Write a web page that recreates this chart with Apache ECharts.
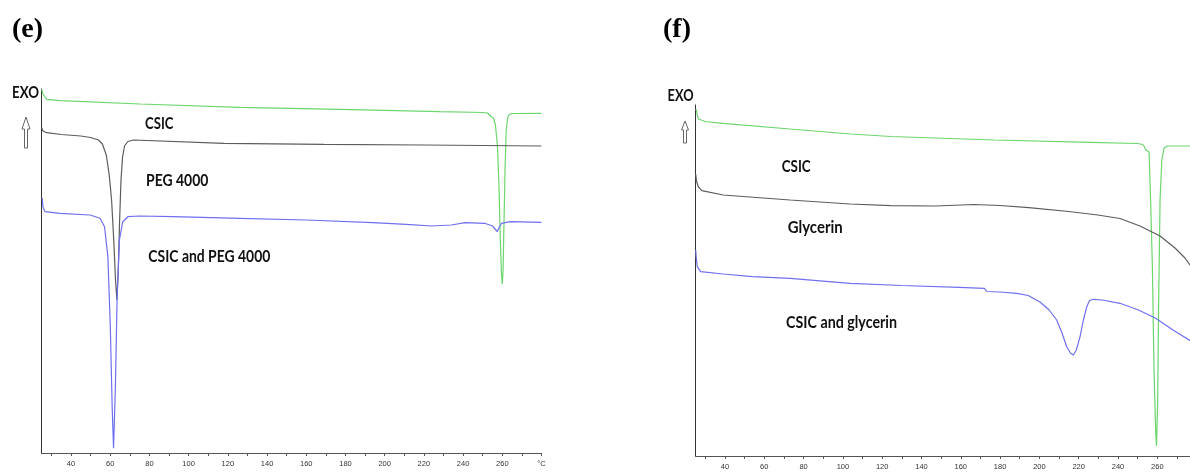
<!DOCTYPE html>
<html>
<head>
<meta charset="utf-8">
<script src="https://cdn.jsdelivr.net/npm/echarts/dist/echarts.min.js"></script>
<style>
  html, body { margin: 0; padding: 0; background: #fff; }
  #chart { width: 1190px; height: 472px; }
</style>
</head>
<body>
<div id="chart"></div>
<script>
// ---- Data (temperature in °C, heat flow in arbitrary units) ----
// Panel (e)
const eCsicT = [25.05,25.7,27.6,34.4,75.2,126.2,177.2,228.2,250,252.5,253.5,254.2,254.8,255.5,256.5,257.5,258.3,259.0,259.6,260.0,260.4,260.9,261.4,262.0,262.7,263.5,265,280];
const eCsicV = [363.7,359,353.7,352.3,349,345.7,343.7,341.3,340.5,340,338,336.5,337.5,335,328,308,268,213,178,169,183,233,283,323,335,338.5,339.5,339.7];
const ePegT = [25.05,25.7,27.6,35,45,50,54,56,58,59.5,60.7,61.8,62.7,63.4,64.1,64.8,65.5,66.3,67.3,69,72,118,169,220,280];
const ePegV = [325.3,322,320.3,318.5,317,315.5,313,309,298,278,253,213,173,153,183,233,273,296,307,311.5,313,309.7,308.7,308,307];
const eMixT = [25.3,25.7,26.7,34.4,49.7,54.8,57.1,58.8,60.0,61.0,61.7,62.6,63.5,64.7,66.4,69,75,92,126,160,194,211,224,234,241,251,255,257.4,258.2,259.6,264,280];
const eMixV = [255,246,241.3,239.7,238,234.7,226.3,196.3,130,46.3,4.7,63,153,213,231.3,236.3,237,236.3,234.7,233,230.3,228.7,227,228,230.3,229.7,227,221.3,225,229.7,231.3,230.7];
// Panel (f)
const fCsicT = [25.3,25.8,26.5,30,39,73,104,124.5,177,226,250,252.6,253.5,254.2,254.8,255.8,256.6,257.5,258.3,259.2,259.6,260.2,260.7,261.4,262.3,263.4,265.1,280];
const fCsicV = [347,342,337,334.5,332.7,327,322,319.5,316,313.7,312.5,311.5,309,306,307,304,256,189.3,89.3,23,10,56,156,256,296,307.7,310,310];
const fGlyT = [25.1,25.5,26.4,28.2,39.1,73.1,103.6,124.5,147.3,166.6,180,194.6,215,229.7,241,251.2,261.4,269,274.1,277];
const fGlyV = [282,275,269.3,265.3,261,256,252,250.3,250,251.5,250.5,248.3,244.5,241,237.5,230,220,208,198,190];
const fMixT = [25.1,25.4,25.9,27.6,39.1,54,73.1,103.6,130,159.2,172,173.2,180,188.5,194.3,200.3,205,208.8,211.5,213.9,215.8,217.3,218.8,220.7,222.4,224.1,225.5,227.4,232,241,250.4,259.2,268,277];
const fMixV = [206,198,189.3,184.3,182,179.3,177.7,172.7,170.5,168.7,167.7,164.5,164,162.7,160.5,154,146,136,123,109.3,103,101,106,119.3,136,149.3,155.5,156.7,156,152.7,146,137.7,126,115];
// Axis ticks and labels
const tickTemps = [30,40,50,60,70,80,90,100,110,120,130,140,150,160,170,180,190,200,210,220,230,240,250,260,270,280];
const labelTemps = [40,60,80,100,120,140,160,180,200,220,240,260,280];
const unitLabel = '°C';
// Texts
const panelLabels = ['(e)', '(f)'];
const curveNamesE = ['CSIC', 'PEG 4000', 'CSIC and PEG 4000'];
const curveNamesF = ['CSIC', 'Glycerin', 'CSIC and glycerin'];

function zip(t, v) { return t.map((x, i) => [x, v[i]]); }

const GREEN = '#6cd66c', GREY = '#5c5c5c', BLUE = '#6f6ff2';

const measureCtx = document.createElement('canvas').getContext('2d');
function squeezed(text, x, yMid, targetW, size) {
  const fam = 'Lato';
  measureCtx.font = 'bold ' + size + 'px ' + fam;
  const w = measureCtx.measureText(text).width;
  return {
    type: 'text', x: x, y: yMid, scaleX: targetW / w, z: 100,
    style: { text: text, fontFamily: fam, fontWeight: 'bold', fontSize: size, fill: '#111', verticalAlign: 'middle', align: 'left' }
  };
}
function arrow(cx, top, headBase, bottom, hw, sw) {
  return {
    type: 'polygon', z: 100,
    shape: { points: [[cx, top], [cx + hw, headBase], [cx + sw, headBase], [cx + sw, bottom], [cx - sw, bottom], [cx - sw, headBase], [cx - hw, headBase]] },
    style: { fill: '#fff', stroke: '#666', lineWidth: 1 }
  };
}

function xAxisFor(grid, fmt) {
  return {
    gridIndex: grid, type: 'value', min: 25, max: 280,
    axisLine: { show: true, onZero: false, lineStyle: { color: '#555', width: 1 } },
    axisTick: { show: true, customValues: tickTemps, length: 3, inside: false, lineStyle: { color: '#555', width: 1 } },
    axisLabel: { customValues: labelTemps, formatter: fmt, fontSize: 7.5, color: '#333', margin: 7, fontFamily: 'Liberation Sans' },
    splitLine: { show: false }
  };
}
function yAxisFor(grid, max) {
  return {
    gridIndex: grid, type: 'value', min: 0, max: max,
    axisLine: { show: true, onZero: false, lineStyle: { color: '#333', width: 1 } },
    axisTick: { show: false }, axisLabel: { show: false }, splitLine: { show: false }
  };
}
function line(name, x, y, data, color) {
  return {
    name: name, type: 'line', xAxisIndex: x, yAxisIndex: y, data: data,
    showSymbol: false, symbol: 'none', smooth: false,
    lineStyle: { color: color, width: 1.2 }, emphasis: { disabled: true }
  };
}

const chart = echarts.init(document.getElementById('chart'), null, { renderer: 'canvas' });
chart.setOption({
  animation: false,
  backgroundColor: '#fff',
  grid: [
    { left: 41.6, right: 648.5, top: 89, bottom: 19, containLabel: false, outerBoundsMode: 'none' },
    { left: 695.5, right: -6.6, top: 105, bottom: 16, containLabel: false, outerBoundsMode: 'none' }
  ],
  xAxis: [
    xAxisFor(0, v => v === 280 ? unitLabel : String(v)),
    xAxisFor(1, v => String(v))
  ],
  yAxis: [yAxisFor(0, 364), yAxisFor(1, 351)],
  series: [
    line(curveNamesE[0], 0, 0, zip(eCsicT, eCsicV), GREEN),
    line(curveNamesE[1], 0, 0, zip(ePegT, ePegV), GREY),
    line(curveNamesE[2], 0, 0, zip(eMixT, eMixV), BLUE),
    line(curveNamesF[0], 1, 1, zip(fCsicT, fCsicV), GREEN),
    line(curveNamesF[1], 1, 1, zip(fGlyT, fGlyV), GREY),
    line(curveNamesF[2], 1, 1, zip(fMixT, fMixV), BLUE)
  ],
  graphic: [
    { type: 'text', x: 12, y: 29.5, z: 100, style: { text: panelLabels[0], fontFamily: 'Liberation Serif', fontWeight: 'bold', fontSize: 28, fill: '#000', verticalAlign: 'middle' } },
    { type: 'text', x: 663, y: 29.5, z: 100, style: { text: panelLabels[1], fontFamily: 'Liberation Serif', fontWeight: 'bold', fontSize: 28, fill: '#000', verticalAlign: 'middle' } },
    squeezed('EXO', 12, 92.5, 27, 17.5),
    squeezed('EXO', 667.5, 95.5, 26, 17.5),
    arrow(26, 117, 129, 148, 4, 1.5),
    arrow(685, 121, 130, 143, 3.5, 1.5),
    squeezed(curveNamesE[0], 145, 123.7, 28.5, 17.5),
    squeezed(curveNamesE[1], 146, 180.3, 62.4, 17.5),
    squeezed(curveNamesE[2], 148.3, 256.3, 122, 17.5),
    squeezed(curveNamesF[0], 781.7, 166.3, 29, 17.5),
    squeezed(curveNamesF[1], 787.7, 227.2, 55, 17.5),
    squeezed(curveNamesF[2], 786, 322, 111, 17.5)
  ]
});
</script>
</body>
</html>
